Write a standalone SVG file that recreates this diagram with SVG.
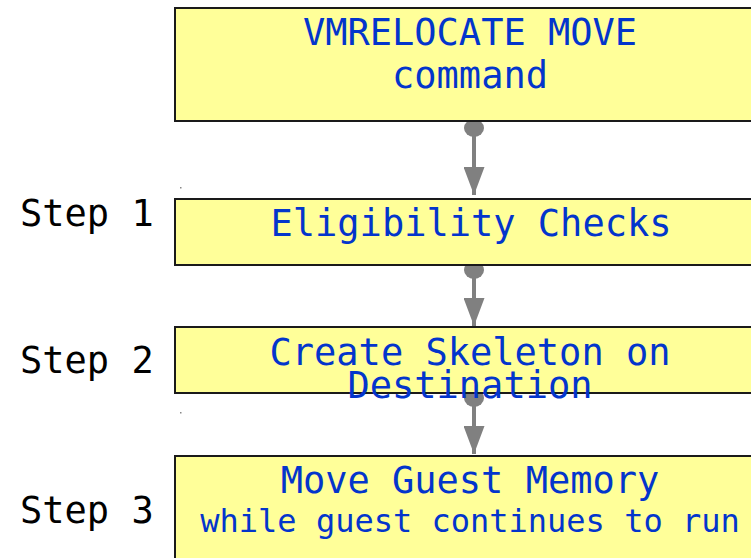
<svg xmlns="http://www.w3.org/2000/svg" width="751" height="558" viewBox="0 0 751 558">
  <style>
    .box { fill: #ffff99; stroke: #1a1a1a; stroke-width: 2; }
    .lbl { font-family: "DejaVu Sans Mono", "Liberation Mono", monospace; fill: #0335cc; text-anchor: middle; }
    .step { font-family: "DejaVu Sans Mono", "Liberation Mono", monospace; fill: #000; font-size: 37px; }
    .wire { stroke: #808080; stroke-width: 4; fill: none; }
    .dot { fill: #808080; }
  </style>
  <defs>
    <marker id="head" viewBox="0 0 28 21" refX="28" refY="10.5" markerWidth="7" markerHeight="5.25" markerUnits="strokeWidth" orient="auto">
      <path d="M0,0 L28,10.5 L0,21 Z" fill="#808080"/>
    </marker>
  </defs>
  <rect width="751" height="558" fill="#fff"/>

  <g id="connectors">
    <ellipse class="dot" cx="474" cy="128" rx="10" ry="9"/>
    <line class="wire" x1="474" y1="128" x2="474" y2="195" marker-end="url(#head)"/>
    <ellipse class="dot" cx="474" cy="270" rx="10" ry="9"/>
    <line class="wire" x1="474" y1="270" x2="474" y2="326" marker-end="url(#head)"/>
    <ellipse class="dot" cx="474" cy="398" rx="10" ry="9"/>
    <line class="wire" x1="474" y1="398" x2="474" y2="454" marker-end="url(#head)"/>
  </g>

  <g id="cmd">
    <rect class="box" x="175" y="8" width="590" height="113"/>
    <text class="lbl" x="470" y="45" font-size="37">VMRELOCATE MOVE</text>
    <text class="lbl" x="470" y="88" font-size="37">command</text>
  </g>

  <g id="step1">
    <text class="step" x="20" y="226">Step 1</text>
    <rect class="box" x="175" y="199" width="590" height="66"/>
    <text class="lbl" x="471" y="236" font-size="37">Eligibility Checks</text>
  </g>

  <g id="step2">
    <text class="step" x="20" y="373">Step 2</text>
    <rect class="box" x="175" y="327" width="590" height="66"/>
    <text class="lbl" x="470" y="365" font-size="37">Create Skeleton on</text>
    <text class="lbl" x="470" y="398" font-size="37">Destination</text>
  </g>

  <g id="step3">
    <text class="step" x="20" y="523">Step 3</text>
    <rect class="box" x="175" y="456" width="590" height="120"/>
    <text class="lbl" x="470" y="493" font-size="37">Move Guest Memory</text>
    <text class="lbl" x="470" y="532" font-size="32">while guest continues to run</text>
  </g>

  <rect x="180" y="187" width="1.5" height="1.5" fill="#888"/>
  <rect x="180" y="412" width="1.5" height="1.5" fill="#888"/>
</svg>
